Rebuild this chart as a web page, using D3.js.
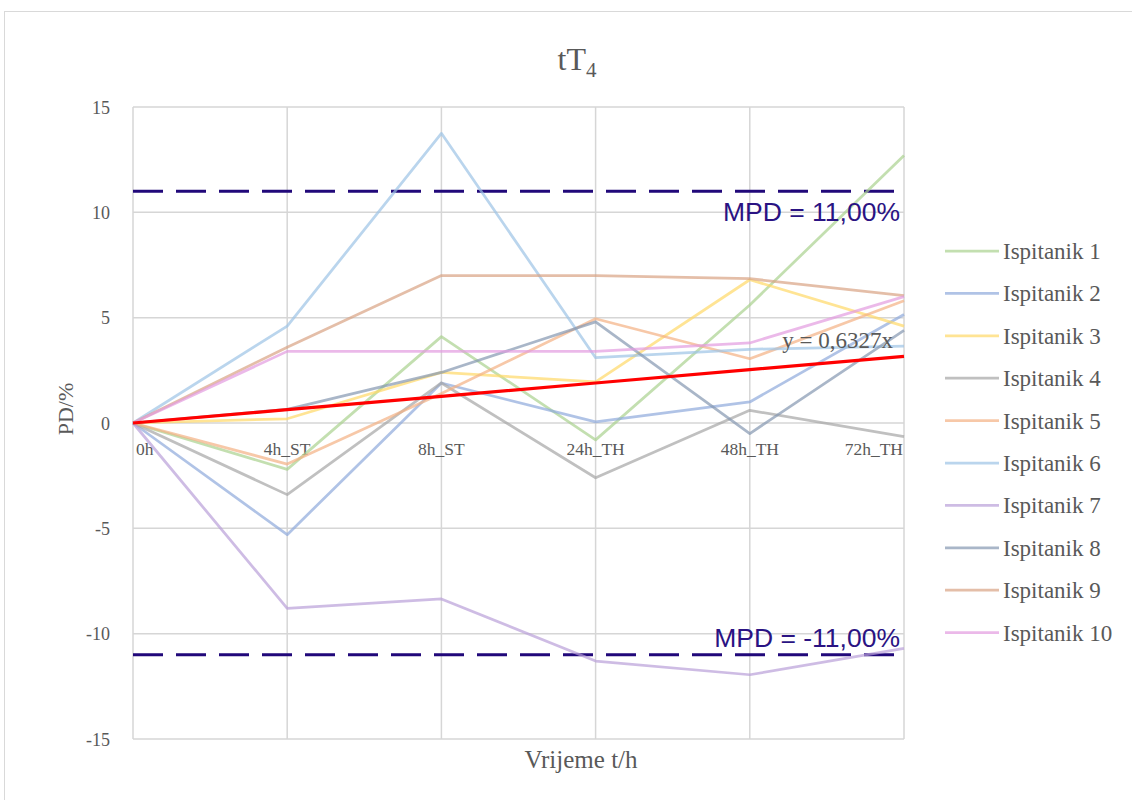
<!DOCTYPE html>
<html>
<head>
<meta charset="utf-8">
<script src="https://cdn.jsdelivr.net/npm/d3@7"></script>
<style>
  html, body { margin: 0; padding: 0; background: #fff; }
  svg { display: block; }
</style>
</head>
<body>
<svg id="chart" width="1132" height="800"></svg>
<script>
// ---- data ----
const categories = ["0h", "4h_ST", "8h_ST", "24h_TH", "48h_TH", "72h_TH"];
const seriesNames = ["Ispitanik 1", "Ispitanik 2", "Ispitanik 3", "Ispitanik 4", "Ispitanik 5",
                     "Ispitanik 6", "Ispitanik 7", "Ispitanik 8", "Ispitanik 9", "Ispitanik 10"];
const ispitanik1  = [0, -2.2, 4.1, -0.8, 5.6, 12.7];
const ispitanik2  = [0, -5.3, 1.9, 0.05, 1.0, 5.15];
const ispitanik3  = [0, 0.2, 2.4, 1.95, 6.8, 4.6];
const ispitanik4  = [0, -3.4, 1.9, -2.6, 0.6, -0.65];
const ispitanik5  = [0, -1.95, 1.4, 4.95, 3.05, 5.8];
const ispitanik6  = [0, 4.6, 13.75, 3.1, 3.5, 3.65];
const ispitanik7  = [0, -8.8, -8.35, -11.3, -11.95, -10.7];
const ispitanik8  = [0, 0.65, 2.4, 4.8, -0.5, 4.4];
const ispitanik9  = [0, 3.6, 7.0, 7.0, 6.85, 6.05];
const ispitanik10 = [0, 3.4, 3.4, 3.4, 3.8, 6.0];
const seriesValues = [ispitanik1, ispitanik2, ispitanik3, ispitanik4, ispitanik5,
                      ispitanik6, ispitanik7, ispitanik8, ispitanik9, ispitanik10];
const seriesColors = ["#a9d18e", "#8faadc", "#ffd966", "#a5a5a5", "#f4b183",
                      "#9dc3e6", "#b9a0d8", "#8497b0", "#d9a283", "#e39be0"];
const trendSlope = 0.6327;
const trendLabel = "y = 0,6327x";
const mpdValues = [11, -11];
const mpdLabels = ["MPD = 11,00%", "MPD = -11,00%"];
const yTicks = [-15, -10, -5, 0, 5, 10, 15];
const yTickLabels = ["-15", "-10", "-5", "0", "5", "10", "15"];

// ---- layout ----
const serif = "'Liberation Serif', 'Times New Roman', serif";
const svg = d3.select("#chart");
const plot = { left: 133, right: 904, top: 107, bottom: 739 };

const x = d3.scalePoint().domain(categories).range([plot.left, plot.right]);
const y = d3.scaleLinear().domain([-15, 15]).range([plot.bottom, plot.top]);

// outer chart border
svg.append("rect").attr("x", 4.5).attr("y", 11.5).attr("width", 1140).attr("height", 800)
  .attr("fill", "none").attr("stroke", "#d9d9d9").attr("stroke-width", 1);

// gridlines
const grid = svg.append("g");
grid.selectAll("line.h").data(yTicks).join("line")
  .attr("x1", plot.left).attr("x2", plot.right)
  .attr("y1", d => y(d)).attr("y2", d => y(d))
  .attr("stroke", "#d6d6d6").attr("stroke-width", 1.5);
grid.selectAll("line.v").data(categories).join("line")
  .attr("x1", d => x(d)).attr("x2", d => x(d))
  .attr("y1", plot.top).attr("y2", plot.bottom)
  .attr("stroke", "#d6d6d6").attr("stroke-width", 1.5);

// y axis labels
const yAxis = d3.axisLeft(y).tickValues(yTicks).tickSize(0).tickPadding(0)
  .tickFormat((d, i) => yTickLabels[i]);
const yg = svg.append("g").attr("transform", `translate(110,0)`).call(yAxis);
yg.select(".domain").remove();
yg.attr("font-family", null).attr("font-size", null);
yg.selectAll("text")
  .style("font-family", serif).style("font-size", "18px").style("fill", "#595959")
  .attr("text-anchor", "end").attr("dy", "0.35em").attr("x", 0);

// category labels (placed just under the zero line)
svg.append("g").selectAll("text").data(categories).join("text")
  .attr("x", (d, i) => i === 0 ? x(d) + 3 : (i === categories.length - 1 ? x(d) - 1 : x(d)))
  .attr("y", y(0) + 32)
  .attr("text-anchor", (d, i) => i === 0 ? "start" : (i === categories.length - 1 ? "end" : "middle"))
  .style("font-family", serif).style("font-size", "17.5px").style("fill", "#595959")
  .text(d => d);

// MPD dashed lines
svg.append("g").selectAll("line").data(mpdValues).join("line")
  .attr("x1", plot.left).attr("x2", plot.right)
  .attr("y1", d => y(d)).attr("y2", d => y(d))
  .attr("stroke", "#21087a").attr("stroke-width", 3)
  .attr("stroke-dasharray", "30,13");

// series lines
const line = d3.line().x((d, i) => x(categories[i])).y(d => y(d));
svg.append("g").selectAll("path").data(seriesValues).join("path")
  .attr("d", d => line(d))
  .attr("fill", "none")
  .attr("stroke", (d, i) => seriesColors[i])
  .attr("stroke-width", 2.75)
  .attr("stroke-opacity", 0.7)
  .attr("stroke-linejoin", "round");

// trendline
const trendValues = categories.map((c, i) => trendSlope * i);
svg.append("path").attr("d", line(trendValues))
  .attr("fill", "none").attr("stroke", "#ff0000").attr("stroke-width", 3.2);

svg.append("text").attr("x", 893).attr("y", 348).attr("text-anchor", "end")
  .style("font-family", serif).style("font-size", "23px").style("fill", "#595959")
  .text(trendLabel);

// MPD labels
svg.append("g").selectAll("text").data(mpdValues).join("text")
  .attr("x", 900)
  .attr("y", d => d > 0 ? y(d) + 30 : y(d) - 8)
  .attr("text-anchor", "end")
  .style("font-family", "'Liberation Sans', Arial, sans-serif")
  .style("font-size", "26.5px")
  .style("fill", "#2a1383")
  .text((d, i) => mpdLabels[i]);

// title
const title = svg.append("text").attr("x", 577).attr("y", 70).attr("text-anchor", "middle")
  .style("font-family", serif).style("font-size", "32px").style("fill", "#595959");
title.append("tspan").text("tT");
title.append("tspan").style("font-size", "21px").attr("dy", 7).text("4");

// axis titles
svg.append("text").attr("x", 581).attr("y", 768).attr("text-anchor", "middle")
  .style("font-family", serif).style("font-size", "25px").style("fill", "#595959")
  .text("Vrijeme t/h");
svg.append("text").attr("transform", "translate(73,409) rotate(-90)")
  .attr("text-anchor", "middle")
  .style("font-family", serif).style("font-size", "22px").style("fill", "#595959")
  .text("PD/%");

// legend
const legend = svg.append("g");
const legendRows = legend.selectAll("g").data(seriesNames).join("g")
  .attr("transform", (d, i) => `translate(945, ${251 + i * 42.4})`);
legendRows.append("line").attr("x1", 0).attr("x2", 54).attr("y1", 0).attr("y2", 0)
  .attr("stroke", (d, i) => seriesColors[i]).attr("stroke-width", 2.75).attr("stroke-opacity", 0.7);
legendRows.append("text").attr("x", 58).attr("y", 0).attr("dy", "0.35em")
  .style("font-family", serif).style("font-size", "23px").style("fill", "#595959")
  .text(d => d);
</script>
</body>
</html>
